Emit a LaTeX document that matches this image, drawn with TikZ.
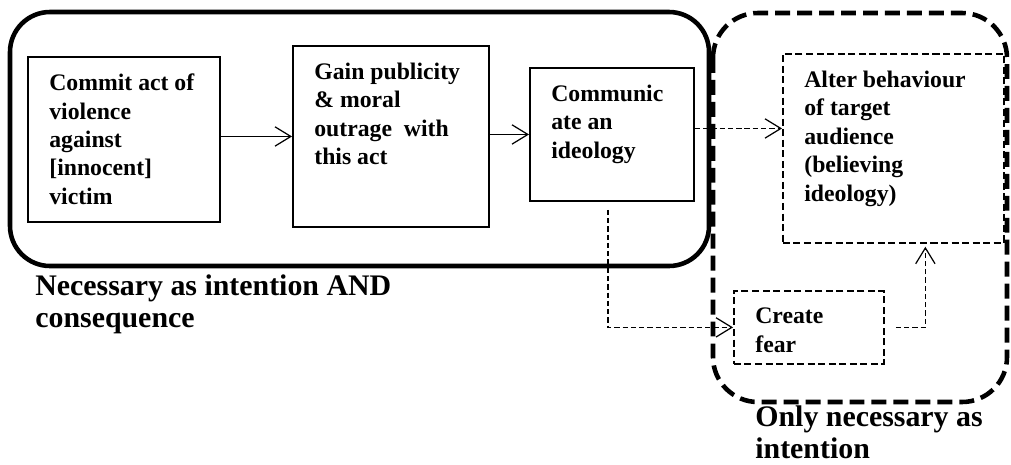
\documentclass[tikz,border=0pt]{standalone}
\usepackage{fontspec}
\setmainfont{Liberation Serif}
\usepackage{tikz}
\usetikzlibrary{positioning}
\usetikzlibrary{arrows.meta}
\usetikzlibrary{calc}

\newcommand{\boxfont}{\fontsize{13.5}{16.2}\selectfont\bfseries}
\newcommand{\capfont}{\fontsize{17}{18.2}\selectfont\bfseries}

\begin{document}
\begin{tikzpicture}[x=0.02cm, y=-0.02cm,
  box/.style={draw, line width=1.1pt, anchor=north west, inner sep=0pt},
  dbox/.style={box, line width=1pt, dash pattern=on 4pt off 2pt},
  txt/.style={anchor=north west, align=left, inner sep=0pt, font=\boxfont},
  captxt/.style={anchor=base west, align=left, inner sep=0pt, font=\capfont},
  arr/.style={line width=0.7pt, -{Straight Barb[length=9pt,width=11pt]}},
  darr/.style={arr, dash pattern=on 3pt off 1.7pt}]

 \useasboundingbox (0,0) rectangle (1011,464);

 % groups
 \draw[line width=2.6pt, rounded corners=0.8cm] (10,12) rectangle (709,266);
 \draw[line width=2.6pt, rounded corners=0.9cm, dash pattern=on 8.5pt off 4pt] (713,13) rectangle (1007,402);

 % solid boxes
 \foreach \x/\y/\w/\h/\n/\txt in {27/56/192/165/commit/{Commit act of\\violence\\against\\{[innocent]}\\victim},
        292/45/196/181/gain/{Gain publicity\\\& moral\\outrage\ \ with\\this act},
        529/67/164/133/comm/{Communic\\ate an\\ideology}} {
   \node[box, minimum width=\w*0.02cm, minimum height=\h*0.02cm] (\n) at (\x,\y) {};
   \node[txt] (\n-t) at ([shift={(22,17.5)}]\n.north west) {\txt};
 }

 %level 2
 \foreach \x/\y/\w/\h/\n/\txt in {782/53/221/189/alter/{Alter behaviour\\of target\\audience\\(believing\\ideology)},
        733/290/150/73/fear/{Create\\fear}} {
   \node[dbox, minimum width=\w*0.02cm, minimum height=\h*0.02cm] (\n) at (\x,\y) {};
   \node[txt] (\n-t) at ([shift={(22,17.5)}]\n.north west) {\txt};
 }

 % captions
 \node[captxt] (both) at (35,327) {Necessary as intention AND\\consequence};
 \node[captxt] (only) at (755,458) {Only necessary as\\intention};

 % lines
 \draw[arr] (commit.east |- gain.west) -- (gain.west);
 \draw[arr] (gain.east |- comm.west) -- (comm.west);
 \draw[darr] ([yshift=0.12cm]comm.east) -- ([yshift=0.12cm]comm.east -| alter.west);
 \draw[darr] ([xshift=-0.08cm, yshift=-0.16cm]comm.south) |- (fear.west);
 \draw[darr] ([xshift=0.22cm]fear.east) -| ([xshift=0.64cm, yshift=-0.06cm]alter.south);

\end{tikzpicture}
\end{document}
